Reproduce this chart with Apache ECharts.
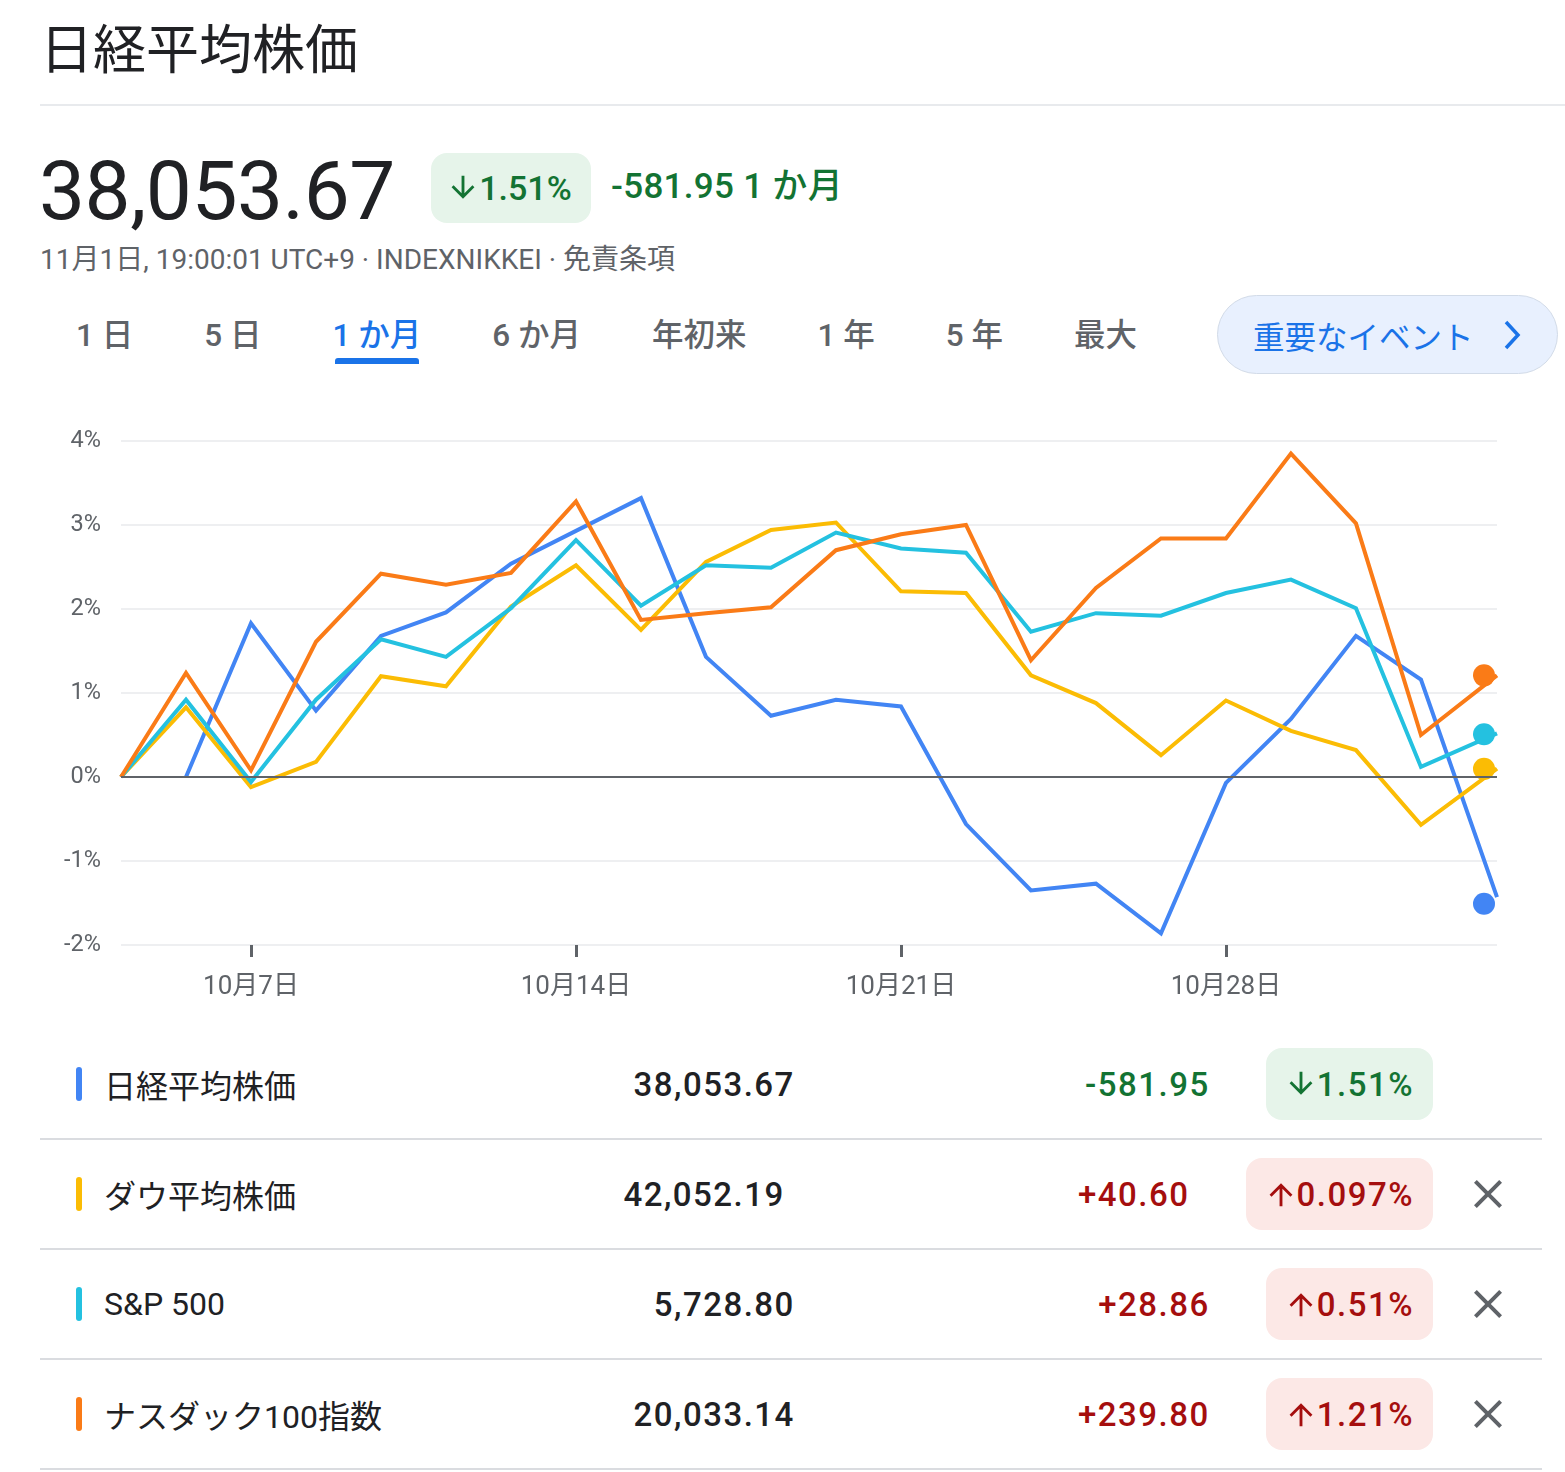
<!DOCTYPE html>
<html lang="ja">
<head>
<meta charset="utf-8">
<title>日経平均株価</title>
<script src="https://cdn.jsdelivr.net/npm/echarts@6/dist/echarts.min.js"></script>
<style>
  html, body { margin: 0; padding: 0; background: #fff; }
  body {
    width: 1565px; height: 1472px; position: relative; overflow: hidden;
    font-family: Roboto, "Noto Sans CJK JP", sans-serif; color: #202124;
  }
  .abs { position: absolute; }
  .title { left: 40px; top: 14px; font-size: 53px; line-height: 64px; font-family: "Noto Sans CJK JP", sans-serif; }
  .rule { left: 40px; top: 104px; width: 1525px; height: 2px; background: #e8eaed; }
  .price { left: 39px; top: 150px; font-size: 82px; line-height: 82px; letter-spacing: -0.5px; }
  .badge {
    display: flex; align-items: center; justify-content: center; gap: 3px;
    border-radius: 16px; font-weight: 500;
  }
  .badge.down { background: #e6f4ea; color: #137333; }
  .badge.up { background: #fce8e6; color: #a50e0e; }
  .badge svg { fill: currentColor; }
  .head-badge { left: 431px; top: 153px; width: 160px; height: 70px; font-size: 34px; }
  .head-change { left: 611px; top: 166px; font-size: 35px; line-height: 42px; font-weight: 500; color: #137333; letter-spacing: 0.3px; }
  .meta { left: 40px; top: 242px; font-size: 28px; line-height: 36px; color: #5f6368; }
  .tabs { left: 76px; top: 313px; display: flex; gap: 71px; font-size: 31.5px; line-height: 46px; font-weight: 500; color: #5f6368; }
  .tabs .on { color: #1a73e8; position: relative; }
  .tabs .on::after {
    content: ""; position: absolute; left: 3px; right: 2px; top: 45px; height: 6px;
    background: #1a73e8; border-radius: 3px 3px 0 0;
  }
  .events {
    left: 1217px; top: 295px; width: 341px; height: 79px; box-sizing: border-box;
    border: 1.5px solid #d2dbe8; border-radius: 40px; background: #e8f0fe;
    display: flex; align-items: center; padding-left: 35px;
    font-size: 31.5px; color: #1a73e8; font-family: "Noto Sans CJK JP", sans-serif;
  }
  .events svg { margin-left: 28px; }
  #chart { left: 0; top: 400px; width: 1565px; height: 620px; }
  .table { left: 40px; top: 1030px; width: 1502px; }
  .row {
    height: 110px; box-sizing: border-box; border-bottom: 2px solid #dadce0;
    display: flex; align-items: center; font-size: 33px; font-weight: 500;
  }
  .row .namecell { width: 284px; flex: none; display: flex; align-items: center; font-weight: 400; font-size: 32px; white-space: nowrap; }
  .row .bar { width: 6px; height: 34px; border-radius: 3px; margin-left: 36px; margin-right: 22px; flex: none; }
  .row .val { flex: 1 1 0; min-width: 0; text-align: right; letter-spacing: 1.5px; }
  .row .chg { flex: 1 1 0; min-width: 0; text-align: right; letter-spacing: 1.5px; }
  .row .chg span { margin-right: 56px; }
  .row .chg.down { color: #137333; }
  .row .chg.up { color: #a50e0e; }
  .row .badge { height: 72px; padding: 0 19px 0 22px; font-size: 33px; letter-spacing: 1.5px; flex: none; }
  .row .close { width: 109px; flex: none; display: flex; justify-content: center; align-items: center; }
</style>
</head>
<body>
<div class="abs title">日経平均株価</div>
<div class="abs rule"></div>
<div class="abs price">38,053.67</div>
<div class="abs badge down head-badge" id="headBadge"></div>
<div class="abs head-change">-581.95 1 か月</div>
<div class="abs meta">11月1日, 19:00:01 UTC+9 · INDEXNIKKEI · 免責条項</div>
<div class="abs tabs" id="tabs"></div>
<div class="abs events">重要なイベント<svg width="20" height="34" viewBox="0 0 20 34"><polyline points="4,4 16,17 4,30" fill="none" stroke="#1a73e8" stroke-width="3.5"/></svg></div>
<div class="abs" id="chart"></div>
<div class="abs table" id="table"></div>

<script>
// trading days shown on the 1-month view
const tradingDays = ['10月3日', '10月4日', '10月7日', '10月8日', '10月9日', '10月10日', '10月11日',
  '10月14日', '10月15日', '10月16日', '10月17日', '10月18日', '10月21日', '10月22日', '10月23日',
  '10月24日', '10月25日', '10月28日', '10月29日', '10月30日', '10月31日', '11月1日'];
const tickDays = ['10月7日', '10月14日', '10月21日', '10月28日'];
const tabLabels = ['1 日', '5 日', '1 か月', '6 か月', '年初来', '1 年', '5 年', '最大'];

// % change vs. start of period, one value per trading day (null = no quote)
const nikkei = [null, 0, 1.83, 0.79, 1.68, 1.96, 2.54, 2.93, 3.32, 1.43, 0.73, 0.92, 0.84,
  -0.56, -1.35, -1.27, -1.86, -0.07, 0.69, 1.68, 1.16, -1.43];
const dow = [0, 0.83, -0.12, 0.18, 1.20, 1.08, 2.03, 2.52, 1.75, 2.56, 2.94, 3.03, 2.21,
  2.19, 1.21, 0.88, 0.26, 0.91, 0.55, 0.32, -0.57, 0.10];
const sp500 = [0, 0.92, -0.06, 0.92, 1.64, 1.43, 2.01, 2.82, 2.04, 2.52, 2.49, 2.91, 2.72,
  2.67, 1.73, 1.95, 1.92, 2.19, 2.35, 2.01, 0.12, 0.52];
const nasdaq100 = [0, 1.24, 0.08, 1.61, 2.42, 2.29, 2.43, 3.28, 1.87, 1.95, 2.02, 2.70, 2.89,
  3.00, 1.39, 2.25, 2.84, 2.84, 3.85, 3.02, 0.50, 1.21];

// the Nov 1 sample is the latest intraday quote, a little past its day slot
const lastSampleX = 21.17;
const markerX = 20.97;

const seriesNames = ['日経平均株価', 'ダウ平均株価', 'S&P 500', 'ナスダック100指数'];
const lastPrices = ['38,053.67', '42,052.19', '5,728.80', '20,033.14'];
const changes = ['-581.95', '+40.60', '+28.86', '+239.80'];
const changePcts = [-1.51, 0.097, 0.51, 1.21];

const colors = ['#4285f4', '#fbbc04', '#24c1e0', '#fa7b17'];
const allSeries = [nikkei, dow, sp500, nasdaq100];

const arrowDown = '<svg width="26" height="30" viewBox="3 2 18 21"><path d="M20 12l-1.41-1.41L13 16.17V4h-2v12.17l-5.58-5.59L4 12l8 8 8-8z"/></svg>';
const arrowUp = '<svg width="26" height="30" viewBox="3 1 18 21"><path d="M4 12l1.41 1.41L11 7.83V20h2V7.83l5.58 5.59L20 12l-8-8-8 8z"/></svg>';
const closeIcon = '<svg width="48" height="48" viewBox="0 0 24 24"><path fill="#5f6368" d="M19 6.41L17.59 5 12 10.59 6.41 5 5 6.41 10.59 12 5 17.59 6.41 19 12 13.41 17.59 19 19 17.59 13.41 12z"/></svg>';

function pctBadge(p) {
  return (p < 0 ? arrowDown : arrowUp) + '<span>' + Math.abs(p) + '%</span>';
}

document.getElementById('headBadge').innerHTML = pctBadge(changePcts[0]);

document.getElementById('tabs').innerHTML = tabLabels
  .map((t, i) => `<span class="${i === 2 ? 'on' : ''}">${t}</span>`).join('');

document.getElementById('table').innerHTML = seriesNames.map((name, i) => {
  const dir = changePcts[i] < 0 ? 'down' : 'up';
  return `<div class="row">
    <div class="namecell"><span class="bar" style="background:${colors[i]}"></span>${name}</div>
    <div class="val">${lastPrices[i]}</div>
    <div class="chg ${dir}"><span>${changes[i]}</span></div>
    <div class="badge ${dir}">${pctBadge(changePcts[i])}</div>
    <div class="close">${i === 0 ? '' : closeIcon}</div>
  </div>`;
}).join('');

const chart = echarts.init(document.getElementById('chart'), null, { renderer: 'canvas' });

const toPoints = vals => vals
  .map((v, i) => [i === vals.length - 1 ? lastSampleX : i, v])
  .filter(p => p[1] !== null);

const tickIdx = tickDays.map(d => tradingDays.indexOf(d));

const lineSeries = allSeries.map((vals, i) => ({
  name: seriesNames[i],
  type: 'line',
  data: toPoints(vals),
  showSymbol: false,
  lineStyle: { width: 4, color: colors[i], join: 'miter' },
  itemStyle: { color: colors[i] },
  z: 3,
}));

const markerSeries = changePcts.map((p, i) => ({
  type: 'scatter',
  data: [[markerX, p]],
  symbolSize: 22,
  itemStyle: { color: colors[i], opacity: 1 },
  z: 4,
}));

// dark zero line
lineSeries[0].markLine = {
  silent: true,
  symbol: 'none',
  label: { show: false },
  lineStyle: { color: '#5f6368', width: 2, type: 'solid' },
  data: [{ yAxis: 0 }],
};

chart.setOption({
  animation: false,
  grid: { left: 121, width: 1376, top: 41, height: 504 },
  xAxis: {
    type: 'value',
    min: 0,
    max: lastSampleX,
    axisLine: { show: false, onZero: false },
    splitLine: { show: false },
    axisTick: {
      show: true, customValues: tickIdx, length: 12,
      lineStyle: { color: '#5f6368', width: 3 },
    },
    axisLabel: {
      customValues: tickIdx,
      formatter: v => tradingDays[Math.round(v)],
      margin: 29,
      fontSize: 26,
      color: '#5f6368',
      fontFamily: 'Roboto, "Noto Sans CJK JP", sans-serif',
    },
  },
  yAxis: {
    type: 'value',
    min: -2,
    max: 4,
    interval: 1,
    axisLine: { show: false },
    axisTick: { show: false },
    splitLine: { lineStyle: { color: '#eeeff1', width: 2 } },
    axisLabel: {
      formatter: '{value}%',
      margin: 20,
      fontSize: 23.5,
      color: '#5f6368',
      fontFamily: 'Roboto, sans-serif',
    },
  },
  series: [...lineSeries, ...markerSeries],
});
</script>
</body>
</html>
